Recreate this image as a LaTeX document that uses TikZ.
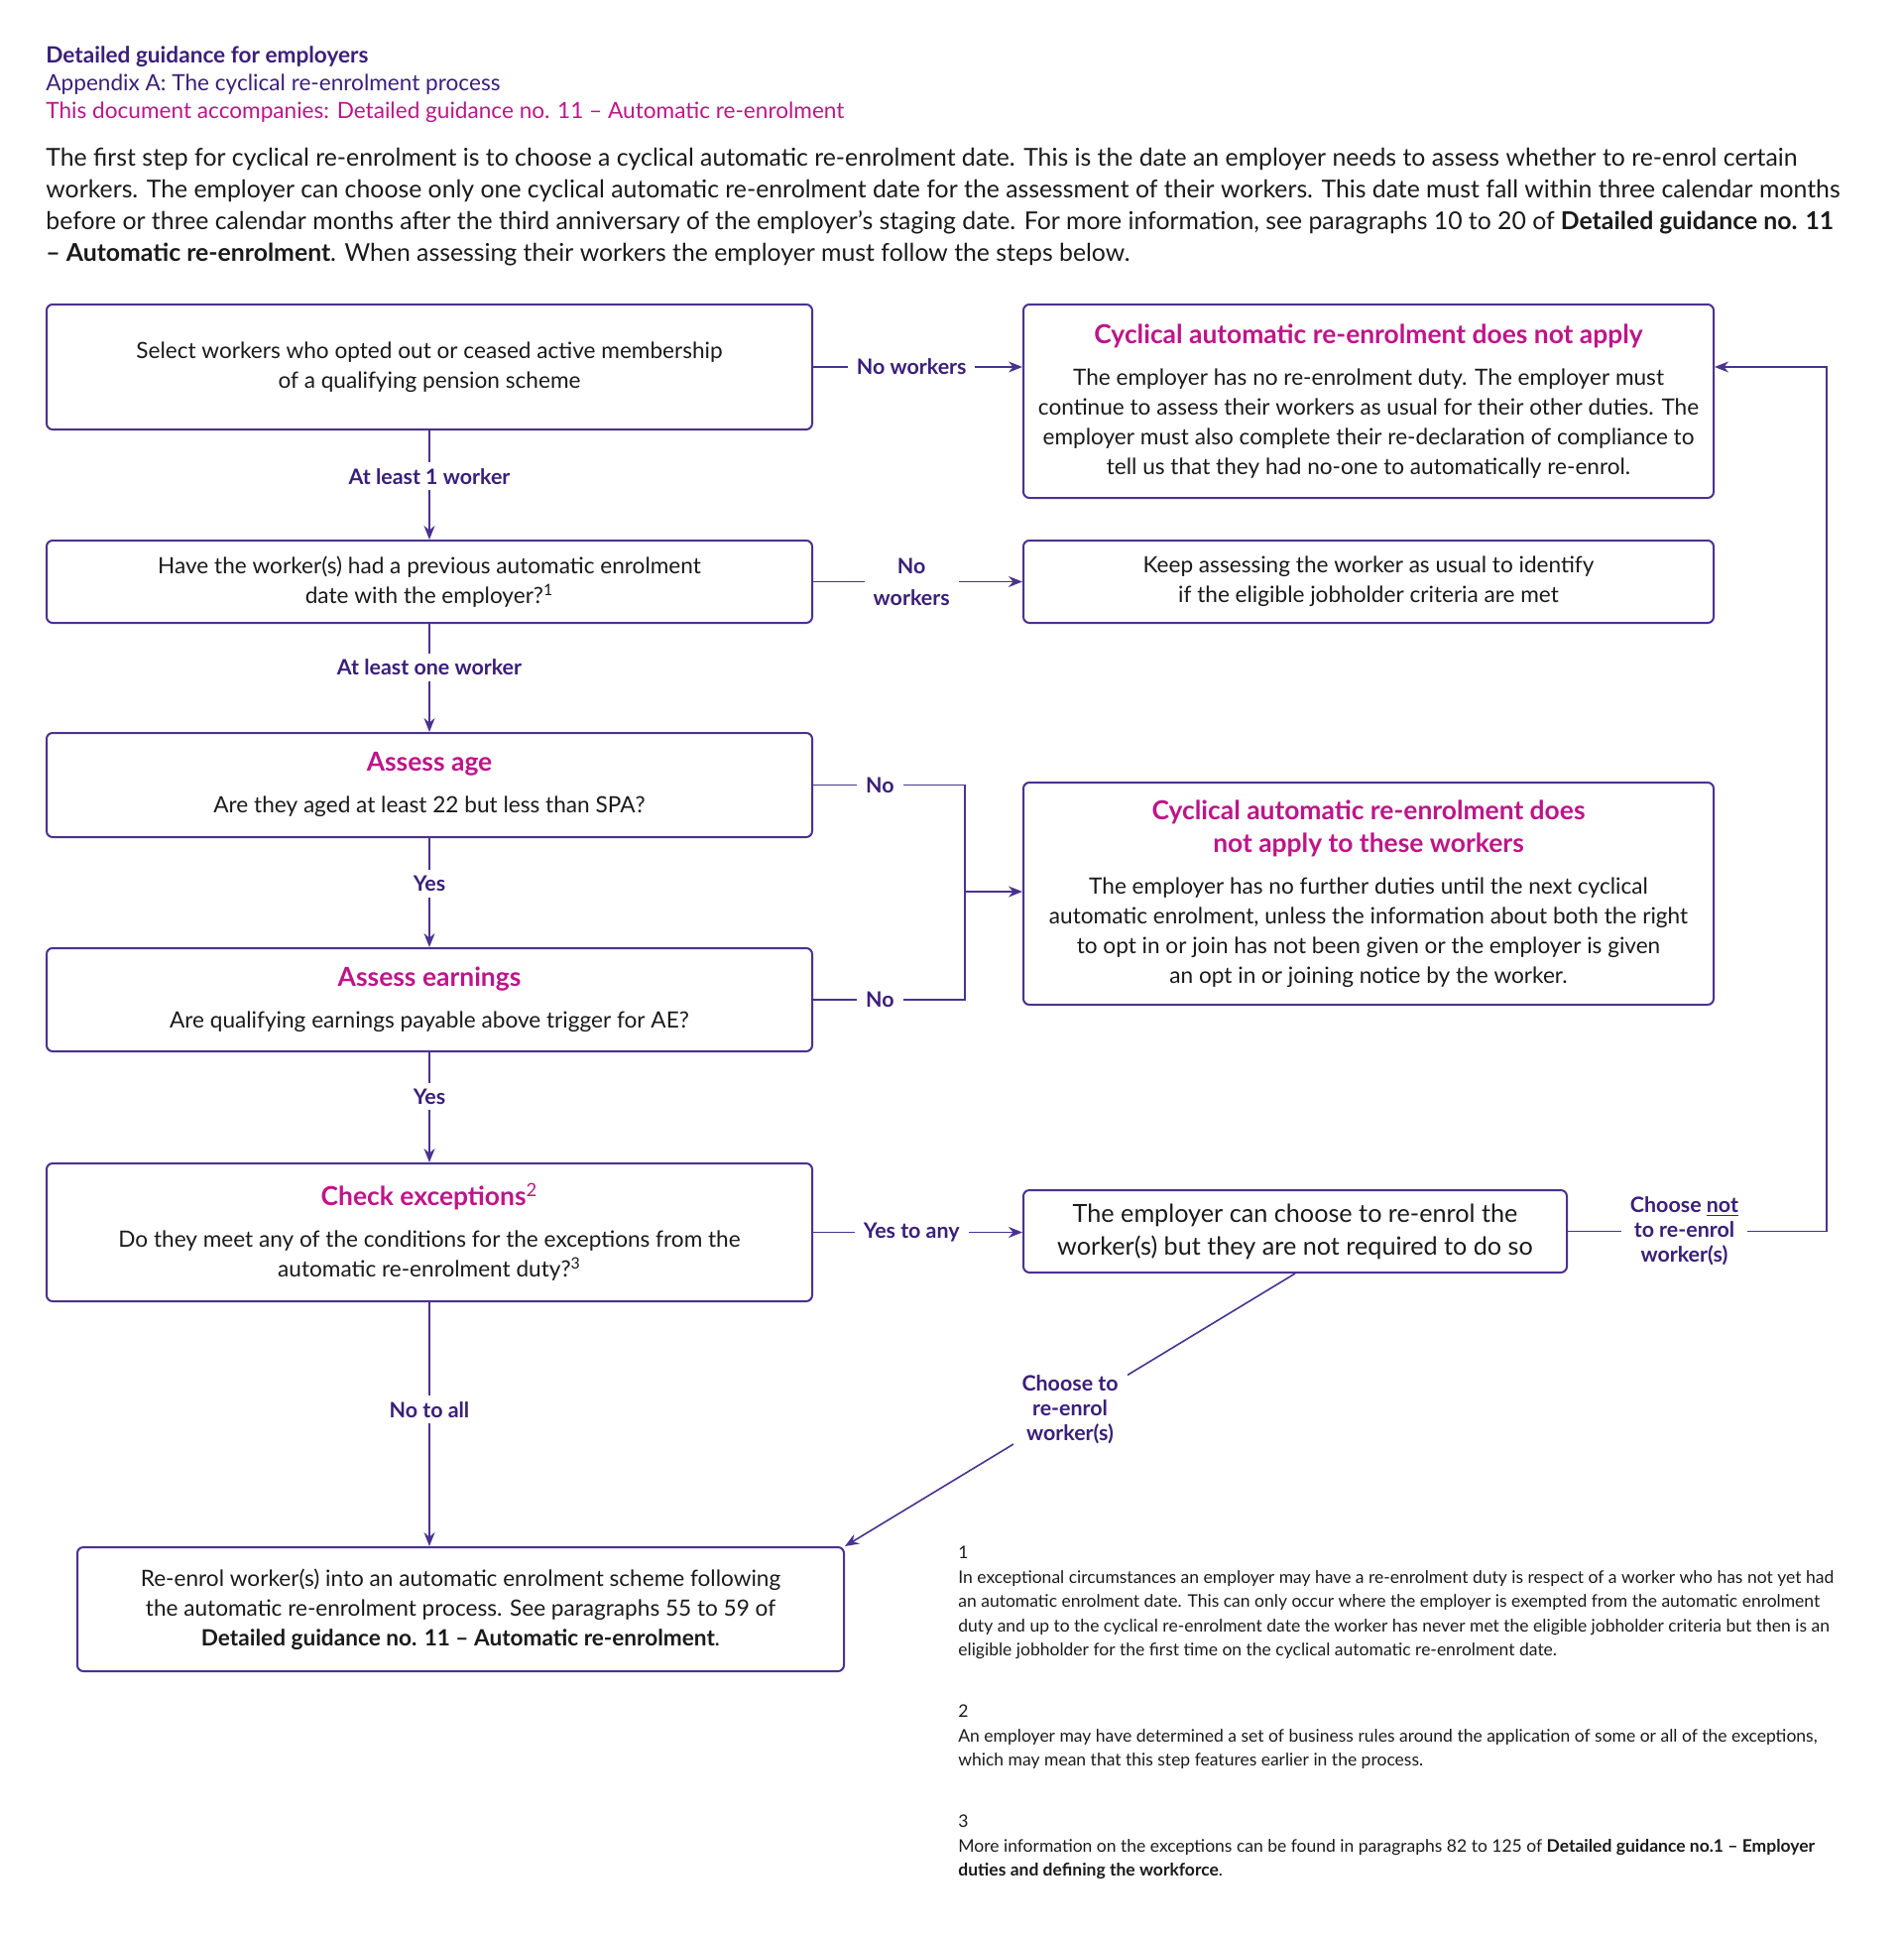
\documentclass[tikz,border=0pt]{standalone}
\usepackage{fontspec}
\setmainfont{Lato}
\usetikzlibrary{arrows.meta,positioning}

\definecolor{inkpurple}{HTML}{3B1F7A}
\definecolor{rulepurple}{HTML}{4A3290}
\definecolor{headpink}{HTML}{BE1589}
\definecolor{bodyblack}{HTML}{1A1A1A}

\tikzset{
  stepbox/.style={draw=rulepurple, line width=1pt, rounded corners=3pt, align=center,
    inner sep=0pt, text=bodyblack, font=\fontsize{11.3}{15}\selectfont},
  flow/.style={draw=rulepurple, line width=0.8pt, -{Stealth[length=7pt,width=5.5pt]}},
  plain/.style={draw=rulepurple, line width=0.8pt},
  choice/.style={fill=white, text=inkpurple, align=center, inner xsep=4.5pt, inner ysep=3pt,
    font=\bfseries\fontsize{10.7}{12.5}\selectfont},
}
\newcommand{\stephead}[1]{{\color{headpink}\bfseries\fontsize{13.2}{16.5}\selectfont #1}}

\begin{document}
\begin{tikzpicture}[x=0.5pt,y=-0.5pt]
\useasboundingbox (0,0) rectangle (1920,1954);

% header and introduction
\node[anchor=north west, inner sep=0pt, align=left, font=\fontsize{11.3}{14}\selectfont] (header) at (46,46)
  {\textcolor{inkpurple}{\bfseries Detailed guidance for employers}\\
   \textcolor{inkpurple}{Appendix A: The cyclical re-enrolment process}\\
   \textcolor{headpink}{This document accompanies: Detailed guidance no. 11 – Automatic re-enrolment}};
\node[anchor=north west, inner sep=0pt, align=left, text=bodyblack, font=\fontsize{12.4}{16}\selectfont] (intro) at (46,149)
  {The first step for cyclical re-enrolment is to choose a cyclical automatic re-enrolment date. This is the date an employer needs to assess whether to re-enrol certain\\
   workers. The employer can choose only one cyclical automatic re-enrolment date for the assessment of their workers. This date must fall within three calendar months\\
   before or three calendar months after the third anniversary of the employer’s staging date. For more information, see paragraphs 10 to 20 of \textbf{Detailed guidance no. 11}\\
   \textbf{– Automatic re-enrolment}. When assessing their workers the employer must follow the steps below.};

% left column
\node[stepbox, minimum width=386pt, minimum height=63pt] (select) at (433,370)
  {Select workers who opted out or ceased active membership\\of a qualifying pension scheme};
\node[stepbox, minimum width=386pt, minimum height=41.5pt] (previous) at (433,586.5)
  {Have the worker(s) had a previous automatic enrolment\\date with the employer?\textsuperscript{1}};
\node[stepbox, minimum width=386pt, minimum height=52.5pt] (age) at (433,791.5)
  {\stephead{Assess age}\\[6pt]Are they aged at least 22 but less than SPA?};
\node[stepbox, minimum width=386pt, minimum height=52pt] (earnings) at (433,1008)
  {\stephead{Assess earnings}\\[6pt]Are qualifying earnings payable above trigger for AE?};
\node[stepbox, minimum width=386pt, minimum height=69.5pt] (exceptions) at (433,1242.5)
  {\stephead{Check exceptions\textsuperscript{\mdseries 2}}\\[6pt]Do they meet any of the conditions for the exceptions from the\\automatic re-enrolment duty?\textsuperscript{3}};
\node[stepbox, minimum width=386.5pt, minimum height=62.5pt] (reenrol) at (464.5,1622.5)
  {Re-enrol worker(s) into an automatic enrolment scheme following\\the automatic re-enrolment process. See paragraphs 55 to 59 of\\\textbf{Detailed guidance no. 11 – Automatic re-enrolment}.};

% right column
\node[stepbox, minimum width=348pt, minimum height=97.5pt] (noapply) at (1380,404.5)
  {\stephead{Cyclical automatic re-enrolment does not apply}\\[6pt]The employer has no re-enrolment duty. The employer must\\continue to assess their workers as usual for their other duties. The\\employer must also complete their re-declaration of compliance to\\tell us that they had no-one to automatically re-enrol.};
\node[stepbox, minimum width=348pt, minimum height=41.5pt] (keep) at (1380,586.5)
  {Keep assessing the worker as usual to identify\\if the eligible jobholder criteria are met};
\node[stepbox, minimum width=348pt, minimum height=112pt] (notthese) at (1380,901)
  {\stephead{Cyclical automatic re-enrolment does}\\[1.5pt]\stephead{not apply to these workers}\\[6pt]The employer has no further duties until the next cyclical\\automatic enrolment, unless the information about both the right\\to opt in or join has not been given or the employer is given\\an opt in or joining notice by the worker.};
\node[stepbox, minimum width=274pt, minimum height=41.5pt, font=\fontsize{12.6}{16.5}\selectfont] (optional) at (1306,1241.5)
  {The employer can choose to re-enrol the\\worker(s) but they are not required to do so};

% footnotes
\node[anchor=north west, inner sep=0pt, align=left, text=bodyblack, font=\fontsize{8.75}{12.25}\selectfont] (notes) at (966,1559)
  {1\\
   In exceptional circumstances an employer may have a re-enrolment duty is respect of a worker who has not yet had\\
   an automatic enrolment date. This can only occur where the employer is exempted from the automatic enrolment\\
   duty and up to the cyclical re-enrolment date the worker has never met the eligible jobholder criteria but then is an\\
   eligible jobholder for the first time on the cyclical automatic re-enrolment date.\\[18.75pt]
   2\\
   An employer may have determined a set of business rules around the application of some or all of the exceptions,\\
   which may mean that this step features earlier in the process.\\[18.75pt]
   3\\
   More information on the exceptions can be found in paragraphs 82 to 125 of \textbf{Detailed guidance no.1 – Employer}\\
   \textbf{duties and defining the workforce}.};

% connectors
\coordinate (loop) at (1842,370);
\coordinate (merge) at (973,899);

\draw[flow] (select.east) -- node[choice, pos=0.47]{No workers} (select.east -| noapply.west);
\draw[flow] (select) -- node[choice, pos=0.42]{At least 1 worker} (previous);
\draw[flow] (previous.east) -- node[choice, pos=0.47]{No\\[3.5pt]workers} (keep.west);
\draw[flow] (previous) -- node[choice, pos=0.4]{At least one worker} (age);
\draw[flow] (age) -- node[choice, pos=0.42]{Yes} (earnings);
\draw[flow] (earnings) -- node[choice, pos=0.4]{Yes} (exceptions);
\draw[plain] (age.east) -- node[choice, pos=0.44]{No} (age.east -| merge)
  -- (earnings.east -| merge) -- node[choice, pos=0.56]{No} (earnings.east);
\draw[flow] (merge) -- (merge -| notthese.west);
\draw[flow] (exceptions.east) -- node[choice, pos=0.47]{Yes to any} (exceptions.east -| optional.west);
\draw[flow] (exceptions.south) -- node[choice, pos=0.44]{No to all} (exceptions.south |- reenrol.north);
\draw[flow] (optional.east) -- node[choice, pos=0.45]{Choose \underline{not}\\to re-enrol\\worker(s)} (optional.east -| loop)
  -- (loop) -- (loop -| noapply.east);
\draw[flow] (optional.south) -- node[choice, pos=0.5]{Choose to\\re-enrol\\worker(s)} (reenrol.north east);

\end{tikzpicture}
\end{document}
